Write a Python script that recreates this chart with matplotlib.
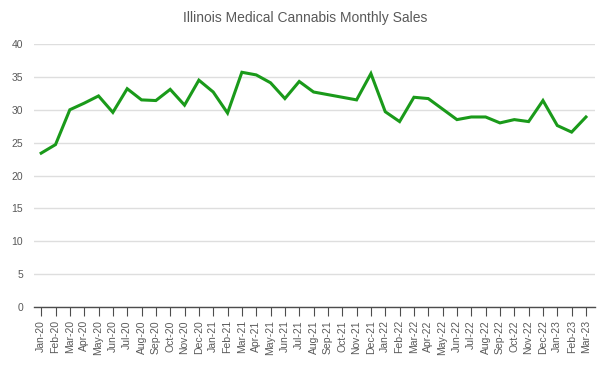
import matplotlib.pyplot as plt
import numpy as np

plt.rcParams['font.family'] = ['Liberation Sans', 'DejaVu Sans']

months = ['Jan-20', 'Feb-20', 'Mar-20', 'Apr-20', 'May-20', 'Jun-20', 'Jul-20', 'Aug-20',
          'Sep-20', 'Oct-20', 'Nov-20', 'Dec-20', 'Jan-21', 'Feb-21', 'Mar-21', 'Apr-21',
          'May-21', 'Jun-21', 'Jul-21', 'Aug-21', 'Sep-21', 'Oct-21', 'Nov-21', 'Dec-21',
          'Jan-22', 'Feb-22', 'Mar-22', 'Apr-22', 'May-22', 'Jun-22', 'Jul-22', 'Aug-22',
          'Sep-22', 'Oct-22', 'Nov-22', 'Dec-22', 'Jan-23', 'Feb-23', 'Mar-23']
sales = [23.4, 24.7, 30.0, 31.0, 32.1, 29.6, 33.2, 31.5, 31.4, 33.1, 30.7, 34.5, 32.7,
         29.5, 35.7, 35.3, 34.1, 31.7, 34.3, 32.7, 32.3, 31.9, 31.5, 35.5, 29.7, 28.2,
         31.9, 31.7, 30.1, 28.5, 28.9, 28.9, 28.0, 28.5, 28.2, 31.4, 27.6, 26.6, 28.9]

fig = plt.figure(figsize=(6.11, 3.65), dpi=100)
ax = fig.add_axes([34 / 611, 1 - 307 / 365, (595 - 34) / 611, (307 - 44) / 365])

x = np.arange(len(months))
ax.plot(x, sales, color='#1a9a1a', linewidth=2.2, solid_joinstyle='miter', zorder=3)

ax.set_xlim(-0.5, 38.63)
ax.set_ylim(0, 40)
ax.set_yticks(range(0, 41, 5))
ax.set_xticks(x)
ax.set_xticklabels(months, rotation=90)
ax.grid(axis='y', color='#dedede', linewidth=1)
ax.set_axisbelow(True)

for s in ['top', 'right', 'left']:
    ax.spines[s].set_visible(False)
ax.spines['bottom'].set_color('#4d4d4d')
ax.spines['bottom'].set_linewidth(1)

ax.tick_params(axis='y', length=0, labelsize=7.5, labelcolor='#595959', pad=8)
ax.tick_params(axis='x', length=6.5, color='#4d4d4d', labelsize=7.5, labelcolor='#595959', pad=3)

fig.text(0.5, 1 - 18 / 365, 'Illinois Medical Cannabis Monthly Sales', ha='center', va='center',
         fontsize=10, color='#595959')

plt.savefig('out.png', dpi=100)
